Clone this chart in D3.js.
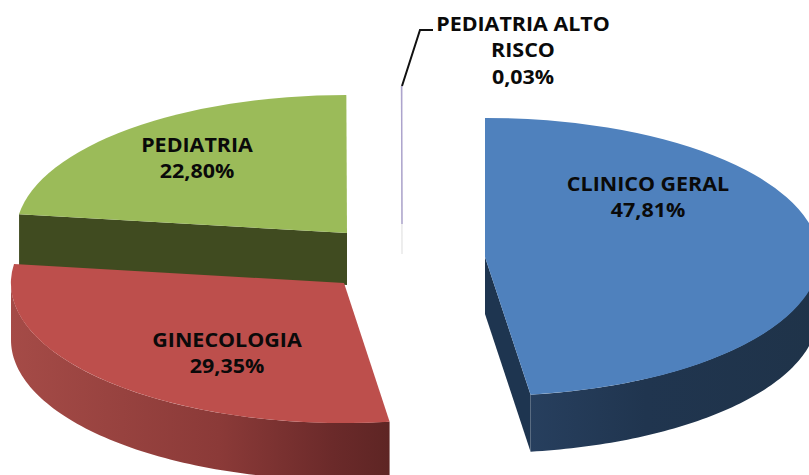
<!DOCTYPE html>
<html><head><meta charset="utf-8">
<script src="https://cdnjs.cloudflare.com/ajax/libs/d3/7.8.5/d3.min.js"></script>
<style>html,body{margin:0;padding:0;background:#fff}svg{display:block}
text{font-family:"Open Sans",sans-serif;font-weight:700;font-size:19.5px;fill:#0a0a0a;text-anchor:middle}</style>
</head><body><div id="c"></div>
<script>
const categories = ["CLINICO GERAL","GINECOLOGIA","PEDIATRIA","PEDIATRIA ALTO RISCO"];
const values = [47.81,29.35,22.80,0.03];
const valueLabels = ["47,81%","29,35%","22,80%","0,03%"];
const labelLines = [["CLINICO GERAL"],["GINECOLOGIA"],["PEDIATRIA"],["PEDIATRIA ALTO","RISCO"]];
const topColors = ["#4f81bd","#bd4f4c","#9bbb59","#aaa2cc"];
const centers = [[485,257],[344,283],[347,233],[402,224]];
const radii = [[333,139],[333,140],[331,138],[331,138]];
const depths = [57,57,52,30];
const labelPos = [[648,191],[227,347],[197,152],[523,31]];
const wallStops = [
  [[0,"#273f5e"],[.4,"#20354f"],[1,"#1f3349"]],
  [[0,"#a54b47"],[.55,"#8b3a38"],[.85,"#6b2a2a"],[1,"#5e2524"]],
  [[0,"#404b20"],[1,"#404b20"]],
  [[0,"#e6e6e6"],[1,"#e6e6e6"]]];
const faceColors = ["#1e3550","#5e2524","#404b20","#e6e6e6"];
const W=809,H=475;

const svg=d3.select("#c").append("svg").attr("width",W).attr("height",H);
const defs=svg.append("defs");
const pie=d3.pie().sort(null).value(d=>d);
const slices=pie(values);
const arc=d3.arc().innerRadius(0).outerRadius(1);
const line=d3.line();
const drawOrder=[2,1,3,0];

drawOrder.forEach(i=>{
  const s=slices[i],[cx,cy]=centers[i],[rx,ry]=radii[i],dp=depths[i];
  const P=(a,d=0)=>[cx+rx*Math.sin(a),cy-ry*Math.cos(a)+d];
  const g=svg.append("g");
  const thin=i===3;
  // radial cut faces facing the viewer
  const face=a=>g.append("path")
    .attr("d",line([[cx,cy],P(a),P(a,dp),[cx,cy+dp]])+"Z")
    .attr("fill",faceColors[i])
    .attr("stroke",thin?faceColors[i]:"none").attr("stroke-width",thin?.9:0);
  if(-Math.sin(s.startAngle)>1e-6) face(s.startAngle);
  if(Math.sin(s.endAngle)>1e-6) face(s.endAngle);
  // outer rim, visible on the lower half only
  const a0=Math.max(s.startAngle,Math.PI/2),a1=Math.min(s.endAngle,Math.PI*1.5);
  if(a1>a0){
    const angle=d3.scaleLinear().domain([0,80]).range([a0,a1]);
    const pts=d3.range(81).map(angle);
    const top=pts.map(a=>P(a)),bot=pts.map(a=>P(a,dp)).reverse();
    const xs=top.map(p=>p[0]);
    const gid="wall"+i;
    const lg=defs.append("linearGradient").attr("id",gid)
      .attr("gradientUnits","userSpaceOnUse")
      .attr("x1",d3.min(xs)).attr("x2",d3.max(xs)).attr("y1",0).attr("y2",0);
    wallStops[i].forEach(d=>lg.append("stop").attr("offset",d[0]).attr("stop-color",d[1]));
    g.append("path").attr("d",line(top.concat(bot))+"Z").attr("fill",`url(#${gid})`);
  }
  // top surface
  g.append("path").attr("transform",`translate(${cx},${cy}) scale(${rx},${ry})`)
    .attr("d",arc(s)).attr("fill",topColors[i])
    .attr("stroke",thin?topColors[i]:"none").attr("stroke-width",thin?.9:0)
    .attr("vector-effect","non-scaling-stroke");
});

// leader line for the smallest slice
const leader=[[402,86],[420,30],[433,30]];
svg.append("path").attr("d",line(leader)).attr("fill","none").attr("stroke","#111").attr("stroke-width",2);

categories.forEach((c,i)=>{
  const [x,y]=labelPos[i];
  const t=svg.append("text").attr("transform",`translate(${x},${y}) scale(1.1,1)`);
  labelLines[i].concat(valueLabels[i]).forEach((l,k)=>{
    t.append("tspan").attr("x",0).attr("y",k*26.4).text(l);
  });
});
</script></body></html>
